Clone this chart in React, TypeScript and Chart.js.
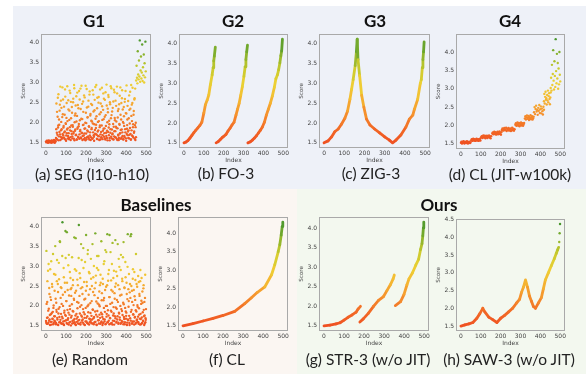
import React, { useEffect, useRef } from 'react';
import { Chart, registerables } from 'chart.js';

Chart.register(...registerables);

// ---------------- data ----------------
const xTicks = [0, 100, 200, 300, 400, 500];

// (a) SEG (l10-h10)
const g1LowY = [1.53, 1.51, 1.55, 1.52, 1.54, 1.50, 1.56, 1.53, 1.51, 1.55, 1.52, 1.54, 1.53, 1.50, 1.56, 1.52, 1.55, 1.51, 1.54, 1.53, 1.57, 1.52, 1.50, 1.55, 1.53];
const g1LowStart = 0;
const g1MidY = [
  1.62, 2.48, 1.75, 1.58, 2.15, 1.88, 2.71, 1.66, 1.95, 2.30,
  1.71, 1.57, 2.55, 2.02, 1.84, 1.63, 2.88, 2.21, 1.69, 1.92,
  2.40, 1.60, 1.78, 2.65, 1.99, 1.55, 2.12, 1.74, 2.91, 1.86,
  1.67, 2.33, 1.59, 2.07, 2.80, 1.81, 1.64, 2.52, 1.93, 1.72,
  2.25, 1.61, 1.90, 2.60, 1.77, 2.94, 1.56, 2.18, 1.83, 2.43,
  1.70, 2.03, 1.58, 2.75, 1.88, 1.65, 2.36, 1.97, 1.60, 2.58,
  1.79, 2.85, 1.63, 2.10, 1.74, 2.47, 1.57, 1.94, 2.27, 1.68,
  2.68, 1.85, 1.62, 2.00, 2.92, 1.73, 1.59, 2.38, 1.81, 2.14,
  1.66, 2.55, 1.91, 1.58, 2.78, 1.76, 2.22, 1.64, 2.05, 1.87,
  2.44, 1.61, 1.98, 2.70, 1.69, 1.55, 2.31, 1.82, 2.89, 1.72,
  1.95, 2.16, 1.60, 2.62, 1.78, 1.67, 2.50, 2.04, 1.57, 1.89,
  2.83, 1.71, 2.26, 1.63, 1.93, 2.41, 1.59, 1.80, 2.73, 2.09,
  1.65, 1.86, 2.57, 1.58, 2.19, 1.75, 2.95, 1.62, 2.01, 2.35,
  1.77, 2.64, 1.69, 1.96, 1.56, 2.46, 1.84, 2.11, 2.86, 1.61,
  2.28, 1.73, 1.59, 2.53, 1.90, 1.66, 2.76, 2.06, 1.79, 1.63,
  2.42, 1.87, 2.90, 1.57, 2.13, 1.70, 2.34, 1.62, 1.97, 2.67,
  1.74, 2.20, 1.60, 2.49, 1.83, 2.81, 1.67, 2.02, 1.58, 2.39,
  1.92, 1.64, 2.59, 1.76, 2.24, 1.55, 2.93, 1.85, 2.08, 1.69,
  2.54, 1.81, 1.61, 2.32, 1.98, 2.77, 1.72, 1.58, 2.17, 2.45,
  1.68, 2.87, 1.89, 1.63, 2.29, 1.78, 2.61, 1.94, 1.57, 2.00,
];
const g1MidStart = 50;
const g1MidY2 = [
  1.84, 1.59, 2.27, 1.70, 2.62, 1.93, 1.56, 2.08, 1.77, 2.45,
  2.90, 1.65, 1.81, 2.37, 1.60, 2.14, 1.72, 2.58, 1.88, 1.63,
  1.76, 2.20, 2.83, 1.58, 1.97, 1.68, 2.49, 1.83, 2.04, 1.61,
  2.56, 1.74, 1.62, 2.30, 1.89, 2.74, 1.57, 2.11, 1.79, 2.39,
  1.66, 1.94, 2.51, 1.73, 1.60, 2.86, 2.01, 1.80, 2.23, 1.69,
  2.66, 1.58, 2.17, 1.85, 2.44, 1.64, 1.91, 2.79, 1.71, 2.06,
  1.82, 2.34, 1.61, 2.92, 1.75, 2.09, 1.67, 2.53, 1.95, 1.59,
  1.73, 2.63, 1.86, 1.56, 2.25, 1.99, 2.84, 1.64, 2.13, 1.78,
  2.40, 1.62, 1.90, 2.70, 1.68, 2.18, 1.57, 2.47, 1.84, 2.03,
  1.60, 2.81, 1.76, 2.28, 1.65, 1.96, 2.57, 1.72, 2.10, 1.87,
  2.94, 1.70, 2.36, 1.59, 2.02, 1.81, 2.64, 1.66, 2.21, 1.93,
  1.58, 2.48, 1.77, 1.63, 2.87, 2.07, 1.69, 2.32, 1.85, 2.60,
  1.74, 2.15, 1.61, 2.76, 1.92, 1.67, 2.43, 1.80, 1.56, 2.26,
  2.69, 1.88, 2.05, 1.62, 2.51, 1.75, 2.91, 1.65, 2.19, 1.83,
  1.71, 2.37, 1.97, 1.58, 2.82, 1.79, 2.12, 1.64, 2.55, 1.90,
  2.03, 1.60, 2.73, 1.86, 2.29, 1.68, 1.57, 2.46, 1.95, 1.73,
  2.88, 1.82, 2.08, 1.63, 2.61, 1.76, 2.33, 1.59, 1.99, 2.16,
  1.67, 2.52, 1.84, 2.79, 1.61, 2.23, 1.72, 1.94, 2.42, 1.78,
  1.62, 2.11, 2.68, 1.70, 1.87, 2.35, 1.58, 2.94, 1.81, 2.04,
  2.49, 1.66, 1.96, 2.20, 1.75, 2.58, 1.60, 2.85, 1.89, 1.64,
];
const g1MidStart2 = 51;
const g1HighY = [3.05, 3.42, 3.12, 2.98, 3.78, 3.20, 3.08, 3.55, 3.15, 4.05, 3.02, 3.30, 3.65, 3.10, 3.25, 3.95, 3.04, 3.38, 3.18, 3.70, 3.00, 3.48, 3.13, 4.02, 3.28];
const g1HighStart = 450;

// (b) FO-3
const fo1X = [0, 10, 20, 30, 40, 50, 60, 70, 80, 90, 100, 108, 117, 125, 133, 142, 147, 150, 153, 158];
const fo1Y = [1.50, 1.52, 1.56, 1.62, 1.69, 1.76, 1.82, 1.88, 1.94, 2.02, 2.25, 2.46, 2.58, 2.71, 2.97, 3.22, 3.40, 3.57, 3.69, 3.92];
const fo2X = [162, 172, 182, 192, 202, 212, 222, 232, 242, 252, 262, 270, 278, 286, 294, 302, 308, 312, 316, 320];
const fo2Y = [1.50, 1.53, 1.58, 1.63, 1.67, 1.72, 1.80, 1.87, 1.95, 2.02, 2.20, 2.35, 2.50, 2.70, 2.92, 3.18, 3.42, 3.60, 3.80, 3.97];
const fo3X = [322, 335, 345, 355, 365, 375, 385, 395, 405, 415, 425, 435, 445, 455, 463, 471, 477, 483, 488, 492, 496];
const fo3Y = [1.50, 1.53, 1.57, 1.62, 1.68, 1.75, 1.82, 1.90, 2.02, 2.20, 2.35, 2.50, 2.68, 2.90, 3.12, 3.22, 3.35, 3.52, 3.70, 3.82, 4.12];

// (c) ZIG-3
const zigX = [0, 20, 37, 53, 70, 86, 103, 116, 128, 136, 144, 154, 160, 164, 168, 176, 186, 197, 210, 227, 250, 275, 300, 323, 339, 356, 380, 405, 422, 439, 447, 463, 476, 481, 486, 489, 492, 495];
const zigY = [1.50, 1.55, 1.65, 1.78, 1.85, 1.97, 2.12, 2.30, 2.60, 2.85, 3.10, 3.45, 3.80, 4.12, 3.60, 3.20, 2.70, 2.40, 2.10, 1.95, 1.85, 1.75, 1.65, 1.57, 1.50, 1.57, 1.70, 1.90, 2.10, 2.20, 2.35, 2.60, 3.00, 3.10, 3.40, 3.60, 3.80, 4.05];

// (d) CL (JIT-w100k): clusters
const g4Start = [0, 52, 102, 158, 206, 274, 322, 368, 418, 452];
const g4End = [48, 98, 152, 204, 270, 318, 366, 418, 452, 500];
const g4C1 = [1.53, 1.56, 1.51, 1.55, 1.52, 1.57, 1.54, 1.51, 1.56, 1.53, 1.55, 1.52, 1.57, 1.54, 1.51, 1.55, 1.53, 1.56, 1.52, 1.54];
const g4C2 = [1.60, 1.63, 1.58, 1.62, 1.64, 1.59, 1.61, 1.63, 1.58, 1.62, 1.60, 1.64, 1.59, 1.61, 1.63, 1.58, 1.62, 1.60, 1.64, 1.59];
const g4C3 = [1.68, 1.71, 1.66, 1.70, 1.73, 1.67, 1.69, 1.72, 1.65, 1.70, 1.68, 1.72, 1.66, 1.71, 1.69, 1.73, 1.67, 1.70, 1.65, 1.71];
const g4C4 = [1.78, 1.81, 1.76, 1.80, 1.83, 1.77, 1.79, 1.82, 1.75, 1.80, 1.78, 1.83, 1.76, 1.81, 1.79, 1.84, 1.77, 1.80, 1.75, 1.82];
const g4C5 = [1.88, 1.92, 1.86, 1.90, 1.93, 1.87, 1.89, 1.94, 1.85, 1.91, 1.88, 1.93, 1.86, 1.90, 1.92, 1.85, 1.89, 1.94, 1.87, 1.91, 1.86, 1.90];
const g4C6 = [2.02, 2.06, 1.99, 2.04, 2.08, 2.00, 2.03, 2.07, 1.98, 2.05, 2.01, 2.08, 2.00, 2.04, 2.06, 1.99, 2.03, 2.07];
const g4C7 = [2.19, 2.25, 2.16, 2.22, 2.27, 2.18, 2.21, 2.26, 2.15, 2.23, 2.20, 2.28, 2.17, 2.22, 2.25, 2.16, 2.20, 2.24];
const g4C8 = [2.36, 2.50, 2.31, 2.45, 2.54, 2.38, 2.42, 2.29, 2.48, 2.40, 2.56, 2.34, 2.44, 2.52, 2.33, 2.46, 2.39, 2.30, 2.51, 2.43];
const g4C9 = [2.66, 2.86, 2.60, 2.78, 2.92, 2.70, 2.74, 2.57, 2.83, 2.68, 2.95, 2.63, 2.80, 2.88, 2.72, 2.58, 2.76, 2.90];
const g4C10 = [3.02, 3.30, 2.95, 3.65, 3.10, 3.40, 4.05, 3.22, 2.98, 3.75, 3.35, 3.05, 4.35, 3.48, 3.15, 3.95, 3.28, 3.70, 3.00, 3.55, 3.12, 4.00, 3.38, 3.20];
const g4Clusters = [g4C1, g4C2, g4C3, g4C4, g4C5, g4C6, g4C7, g4C8, g4C9, g4C10];

// (e) Random
const randY = [
  1.62, 3.38, 1.55, 2.10, 1.71, 2.88, 1.58, 1.93, 2.45, 1.66,
  1.52, 2.22, 1.79, 3.12, 1.60, 2.55, 1.68, 1.85, 1.54, 2.01,
  2.80, 1.63, 1.74, 3.50, 2.18, 1.57, 1.90, 2.62, 1.70, 1.53,
  2.35, 1.81, 3.08, 1.59, 1.97, 3.60, 1.65, 2.47, 1.56, 2.05,
  1.73, 4.10, 2.28, 1.61, 2.95, 1.52, 1.88, 2.58, 1.77, 3.20,
  1.64, 2.12, 3.85, 1.55, 2.40, 1.69, 1.83, 3.28, 1.58, 2.00,
  1.92, 2.70, 1.51, 2.25, 1.75, 3.22, 1.62, 2.52, 1.86, 1.57,
  2.15, 1.67, 2.92, 1.54, 3.70, 2.38, 1.80, 1.60, 2.66, 1.72,
  1.56, 2.08, 4.03, 1.65, 2.82, 1.98, 1.53, 2.44, 1.76, 3.15,
  1.63, 2.30, 1.58, 3.45, 1.84, 2.60, 1.70, 1.52, 2.18, 1.95,
  3.78, 1.61, 2.50, 1.74, 3.30, 1.55, 2.03, 2.85, 1.68, 1.59,
  2.42, 1.82, 3.18, 1.57, 2.12, 1.66, 3.55, 1.90, 2.72, 1.54,
  1.72, 2.27, 1.60, 3.82, 2.58, 1.78, 1.53, 2.95, 1.87, 2.06,
  1.64, 3.25, 1.56, 2.36, 1.99, 1.70, 2.78, 1.58, 3.62, 2.14,
  1.79, 1.52, 2.55, 1.67, 3.05, 2.20, 1.61, 1.85, 3.40, 1.55,
  2.48, 1.73, 2.00, 3.80, 1.59, 2.63, 1.76, 2.90, 1.54, 2.22,
  1.69, 3.35, 1.88, 2.40, 1.57, 2.08, 3.58, 1.63, 2.70, 1.81,
  1.53, 2.32, 1.74, 3.65, 1.96, 2.86, 1.60, 2.15, 1.66, 3.55,
  2.52, 1.58, 1.83, 2.98, 1.71, 2.26, 1.55, 3.28, 1.92, 1.62,
  2.68, 1.77, 3.22, 1.54, 2.04, 1.67, 2.45, 1.59, 3.10, 1.86,
  1.75, 2.58, 1.52, 2.17, 3.80, 1.64, 1.98, 2.80, 1.57, 2.34,
  1.69, 3.75, 1.85, 2.50, 1.56, 2.10, 1.61, 2.92, 1.78, 2.40,
  1.53, 2.24, 1.72, 2.65, 1.89, 1.58, 2.55, 1.66, 2.02, 1.60,
  2.75, 1.55, 1.94, 2.30, 1.68, 2.62, 1.80, 1.54, 2.13, 1.71,
  1.57, 2.08, 1.63, 2.44, 1.90, 1.52, 1.76, 2.20, 1.59, 1.65,
];
const randY2 = [
  1.58, 2.05, 1.70, 2.62, 1.55, 1.88, 3.05, 1.63, 2.30, 1.77,
  2.92, 1.60, 2.15, 1.53, 1.82, 2.48, 1.67, 3.30, 1.95, 1.57,
  1.74, 2.38, 1.61, 2.78, 1.54, 2.08, 1.85, 3.15, 1.66, 2.55,
  1.52, 1.93, 2.67, 1.72, 3.62, 1.59, 2.20, 1.80, 2.45, 1.56,
  3.25, 1.69, 2.00, 1.54, 2.72, 1.83, 1.62, 2.35, 3.88, 1.75,
  2.12, 1.57, 2.58, 1.90, 1.65, 3.02, 1.53, 2.26, 1.78, 2.85,
  1.60, 2.42, 1.71, 2.45, 2.04, 1.56, 1.87, 2.65, 1.64, 2.18,
  3.72, 1.59, 2.33, 1.76, 1.52, 2.88, 1.68, 2.10, 1.94, 2.52,
  1.63, 3.20, 1.55, 2.25, 1.81, 2.70, 1.58, 3.55, 2.02, 1.73,
  2.47, 1.66, 1.92, 2.95, 1.54, 2.16, 1.79, 3.10, 1.61, 2.38,
  1.70, 2.60, 1.57, 1.99, 3.40, 1.84, 2.28, 1.53, 2.82, 1.67,
  2.07, 1.62, 2.68, 1.75, 2.50, 1.56, 1.91, 2.35, 1.69, 3.00,
  1.58, 2.44, 1.86, 1.60, 2.76, 2.11, 1.52, 3.25, 1.73, 2.20,
  2.90, 1.64, 2.03, 1.78, 2.52, 1.55, 2.58, 1.83, 1.61, 2.32,
  1.72, 2.68, 1.57, 2.14, 1.95, 3.12, 1.66, 2.40, 1.54, 2.00,
  3.35, 1.80, 2.52, 1.59, 1.89, 2.80, 1.63, 2.22, 3.78, 1.70,
  2.05, 1.56, 2.64, 1.85, 3.05, 1.53, 2.36, 1.76, 1.97, 2.88,
  1.62, 2.18, 2.48, 1.69, 2.56, 1.58, 1.93, 2.75, 1.74, 2.10,
  1.55, 3.18, 1.81, 2.42, 1.65, 2.00, 2.90, 1.57, 2.28, 1.87,
  2.62, 1.60, 2.08, 3.60, 1.72, 2.46, 1.54, 1.95, 2.72, 1.68,
  1.83, 2.30, 1.58, 2.98, 1.66, 2.42, 2.12, 1.75, 1.52, 2.55,
  2.20, 1.63, 3.80, 1.90, 2.38, 1.56, 2.68, 1.79, 2.02, 1.61,
  2.85, 1.71, 2.15, 1.55, 3.30, 1.86, 1.64, 2.48, 1.98, 1.73,
  1.59, 2.60, 1.78, 2.25, 1.53, 2.90, 1.67, 2.05, 2.70, 1.57,
  2.36, 1.84, 1.62, 2.52, 1.74, 2.10, 1.56, 2.78, 1.69, 1.92,
];

// (f) CL
const clX = [0, 50, 100, 150, 200, 258, 308, 340, 370, 408, 442, 458, 475, 483, 490, 495, 498];
const clY = [1.50, 1.56, 1.63, 1.70, 1.78, 1.89, 2.10, 2.25, 2.40, 2.55, 2.88, 3.15, 3.50, 3.69, 3.95, 4.18, 4.30];

// (g) STR-3
const str1X = [0, 30, 60, 80, 100, 120, 140, 160, 170, 182];
const str1Y = [1.50, 1.52, 1.55, 1.58, 1.65, 1.72, 1.78, 1.85, 1.93, 2.00];
const str2X = [179, 196, 221, 247, 272, 297, 314, 331, 345, 351];
const str2Y = [1.60, 1.68, 1.82, 2.00, 2.15, 2.25, 2.40, 2.55, 2.70, 2.80];
const str3X = [356, 382, 399, 414, 424, 441, 458, 472, 482, 489, 493, 496, 498];
const str3Y = [2.02, 2.12, 2.30, 2.55, 2.70, 2.85, 3.05, 3.20, 3.45, 3.60, 3.80, 4.00, 4.15];

// (h) SAW-3
const sawX = [0, 20, 40, 60, 80, 95, 110, 120, 140, 160, 181, 200, 220, 240, 260, 280, 295, 305, 315, 325, 335, 345, 355, 365, 375, 390, 405, 415, 425, 440, 455, 470, 480, 487, 492];
const sawY = [1.50, 1.53, 1.56, 1.60, 1.72, 1.85, 2.00, 1.90, 1.75, 1.68, 1.60, 1.72, 1.80, 1.90, 2.00, 2.15, 2.25, 2.45, 2.60, 2.80, 2.60, 2.35, 2.20, 2.05, 2.00, 2.15, 2.30, 2.55, 2.80, 3.00, 3.20, 3.40, 3.55, 3.65, 3.72];
const sawTopX = [495, 497, 499];
const sawTopY = [3.87, 4.12, 4.38];

// ---------------- colours ----------------
const STOPS: [number, number[]][] = [
  [0.0, [239, 80, 34]],
  [0.15, [242, 108, 38]],
  [0.3, [245, 148, 45]],
  [0.45, [244, 188, 50]],
  [0.58, [236, 208, 52]],
  [0.72, [200, 202, 45]],
  [0.86, [135, 178, 45]],
  [1.0, [72, 150, 45]],
];
function cmap(v: number, max: number) {
  let t = (v - 1.5) / (max - 1.5);
  t = Math.max(0, Math.min(1, t));
  for (let i = 1; i < STOPS.length; i++) {
    if (t <= STOPS[i][0]) {
      const [t0, c0] = STOPS[i - 1];
      const [t1, c1] = STOPS[i];
      const f = (t - t0) / (t1 - t0);
      const c = c0.map((a, k) => Math.round(a + (c1[k] - a) * f));
      return `rgb(${c[0]},${c[1]},${c[2]})`;
    }
  }
  return 'rgb(72,150,45)';
}

type Series = { x: number[]; y: number[]; kind: 'line' | 'scatter' };

const seq = (start: number, n: number, step: number) => Array.from({ length: n }, (_, i) => start + i * step);

const framePlugin = {
  id: 'frame',
  beforeDatasetsDraw(chart: any) {
    const { ctx, chartArea } = chart;
    const { left, top, right, bottom } = chartArea;
    ctx.save();
    ctx.strokeStyle = '#a9a9a9';
    ctx.lineWidth = 1;
    ctx.strokeRect(Math.round(left) + 0.5, Math.round(top) + 0.5, Math.round(right - left) - 1, Math.round(bottom - top) - 1);
    ctx.restore();
  },
};

const PAD_L = 32, PAD_T = 6, PAD_R = 10, PAD_B = 24;
const TICK_FONT = { family: 'DejaVu Sans', size: 6 };

function Plot({ frame, yMin, yMax, yTicks, series, cmax }: { frame: number[]; yMin: number; yMax: number; yTicks: number[]; series: Series[]; cmax: number }) {
  const ref = useRef<HTMLCanvasElement>(null);
  const [fl, ft, fw, fh] = frame;
  const W = fw + PAD_L + PAD_R;
  const H = fh + PAD_T + PAD_B;
  useEffect(() => {
    const datasets = series.map((s) => {
      const data = s.x.map((x, i) => ({ x, y: s.y[i] }));
      if (s.kind === 'line') {
        return {
          data,
          showLine: true,
          borderWidth: 2.8,
          pointRadius: 0,
          borderCapStyle: 'round',
          borderJoinStyle: 'round',
          borderColor: cmap(s.y[0], cmax),
          segment: { borderColor: (c: any) => cmap((c.p0.parsed.y + c.p1.parsed.y) / 2, cmax) },
        };
      }
      return {
        data,
        showLine: false,
        pointRadius: 1.2,
        borderWidth: 0,
        backgroundColor: s.y.map((v) => cmap(v, cmax)),
      };
    });
    const chart = new Chart(ref.current as HTMLCanvasElement, {
      type: 'scatter',
      data: { datasets } as any,
      options: {
        responsive: false,
        animation: false,
        layout: { autoPadding: false, padding: { left: 0, top: PAD_T, right: PAD_R, bottom: 0 } },
        plugins: { legend: { display: false }, tooltip: { enabled: false } },
        scales: {
          x: {
            type: 'linear',
            min: -25,
            max: 524,
            afterBuildTicks: (s: any) => { s.ticks = xTicks.map((v) => ({ value: v })); },
            afterFit: (s: any) => { s.height = PAD_B; },
            grid: { display: false, drawTicks: false },
            border: { display: false },
            ticks: { font: TICK_FONT, color: '#444', padding: 2, maxRotation: 0, autoSkip: false },
            title: { display: true, text: 'Index', font: TICK_FONT, color: '#444', padding: { top: 0, bottom: 8 } },
          },
          y: {
            type: 'linear',
            min: yMin,
            max: yMax,
            afterBuildTicks: (s: any) => { s.ticks = yTicks.map((v) => ({ value: v })); },
            afterFit: (s: any) => { s.width = PAD_L; },
            grid: { display: false, drawTicks: false },
            border: { display: false },
            ticks: { font: TICK_FONT, color: '#444', padding: 2, callback: (v: any) => Number(v).toFixed(1) },
            title: { display: true, text: 'Score', font: { family: 'DejaVu Sans', size: 5.6 }, color: '#444', padding: { top: 11, bottom: 0 } },
          },
        },
      } as any,
      plugins: [framePlugin],
    });
    return () => chart.destroy();
  }, []);
  return (
    <canvas
      ref={ref}
      width={W}
      height={H}
      style={{ position: 'absolute', left: fl - PAD_L, top: ft - PAD_T, width: W, height: H }}
    />
  );
}

const yT1 = [1.5, 2.0, 2.5, 3.0, 3.5, 4.0];
const yT2 = [1.5, 2.0, 2.5, 3.0, 3.5, 4.0, 4.5];

function Label({ x, y, text, bold }: { x: number; y: number; text: string; bold?: boolean }) {
  return (
    <div
      style={{
        position: 'absolute',
        left: x,
        top: y,
        transform: 'translate(-50%, -50%)',
        whiteSpace: 'nowrap',
        lineHeight: 1,
        fontFamily: 'Lato, "Open Sans", sans-serif',
        fontSize: bold ? 17 : 15.5,
        fontWeight: bold ? 700 : 400,
        color: bold ? '#111' : '#222',
      }}
    >
      {text}
    </div>
  );
}

export default function App() {
  const g1Series: Series[] = [
    { kind: 'scatter', x: seq(g1LowStart, g1LowY.length, 2), y: g1LowY },
    { kind: 'scatter', x: seq(g1MidStart, g1MidY.length, 2), y: g1MidY },
    { kind: 'scatter', x: seq(g1MidStart2, g1MidY2.length, 2), y: g1MidY2 },
    { kind: 'scatter', x: seq(g1HighStart, g1HighY.length, 2), y: g1HighY },
  ];
  const g4Series: Series[] = g4Clusters.map((ys, i) => ({
    kind: 'scatter' as const,
    x: ys.map((_, k) => g4Start[i] + ((g4End[i] - g4Start[i]) * k) / (ys.length - 1)),
    y: ys,
  }));
  return (
    <div style={{ position: 'absolute', left: 0, top: 0, width: 586, height: 374, background: '#fff', overflow: 'hidden' }}>
      <div style={{ position: 'absolute', left: 13, top: 6, width: 573, height: 183, background: '#eef1f8' }} />
      <div style={{ position: 'absolute', left: 13, top: 189, width: 284, height: 185, background: '#fbf6f2' }} />
      <div style={{ position: 'absolute', left: 297, top: 189, width: 289, height: 185, background: '#f3f8ef' }} />

      <Plot frame={[41, 34, 110, 114]} yMin={1.37} yMax={4.21} yTicks={yT1} cmax={4.08} series={g1Series} />
      <Plot frame={[179, 34, 109, 114]} yMin={1.37} yMax={4.25} yTicks={yT1} cmax={4.12}
        series={[
          { kind: 'line', x: fo1X, y: fo1Y },
          { kind: 'line', x: fo2X, y: fo2Y },
          { kind: 'line', x: fo3X, y: fo3Y },
        ]} />
      <Plot frame={[319, 34, 111, 114]} yMin={1.37} yMax={4.25} yTicks={yT1} cmax={4.12}
        series={[{ kind: 'line', x: zigX, y: zigY }]} />
      <Plot frame={[456, 34, 109, 115]} yMin={1.36} yMax={4.49} yTicks={yT1} cmax={4.35} series={g4Series} />

      <Plot frame={[41, 217, 110, 114]} yMin={1.37} yMax={4.23} yTicks={yT1} cmax={4.1}
        series={[
          { kind: 'scatter', x: seq(0, randY.length, 2), y: randY },
          { kind: 'scatter', x: seq(1, randY2.length, 2), y: randY2 },
        ]} />
      <Plot frame={[178, 217, 110, 114]} yMin={1.36} yMax={4.44} yTicks={yT1} cmax={4.3}
        series={[{ kind: 'line', x: clX, y: clY }]} />
      <Plot frame={[319, 217, 110, 114]} yMin={1.37} yMax={4.28} yTicks={yT1} cmax={4.15}
        series={[
          { kind: 'line', x: str1X, y: str1Y },
          { kind: 'line', x: str2X, y: str2Y },
          { kind: 'line', x: str3X, y: str3Y },
        ]} />
      <Plot frame={[456, 219, 109, 112]} yMin={1.36} yMax={4.52} yTicks={yT2} cmax={4.38}
        series={[
          { kind: 'line', x: sawX, y: sawY },
          { kind: 'scatter', x: sawTopX, y: sawTopY },
        ]} />

      <Label x={94} y={20} text="G1" bold />
      <Label x={233} y={20} text="G2" bold />
      <Label x={375} y={20} text="G3" bold />
      <Label x={510} y={20} text="G4" bold />
      <Label x={156} y={204} text="Baselines" bold />
      <Label x={439} y={204} text="Ours" bold />

      <Label x={92} y={175} text="(a) SEG (l10-h10)" />
      <Label x={226} y={174} text="(b) FO-3" />
      <Label x={371} y={174} text="(c) ZIG-3" />
      <Label x={510} y={175} text="(d) CL (JIT-w100k)" />
      <Label x={90} y={360} text="(e) Random" />
      <Label x={227} y={360} text="(f) CL" />
      <Label x={368} y={360} text="(g) STR-3 (w/o JIT)" />
      <Label x={509} y={360} text="(h) SAW-3 (w/o JIT)" />
    </div>
  );
}
